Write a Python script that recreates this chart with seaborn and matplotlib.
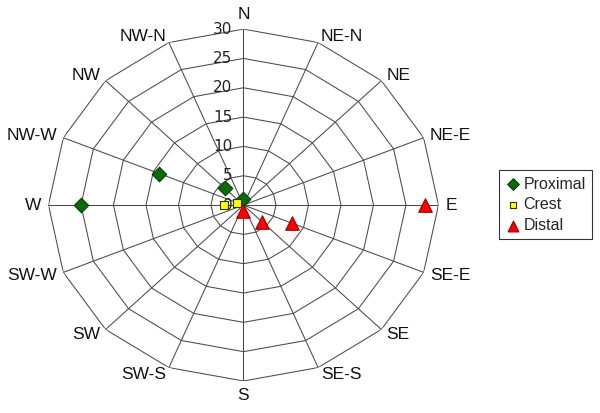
import numpy as np
import pandas as pd
import seaborn as sns
import matplotlib.pyplot as plt

# directions, clockwise from north
directions = ["N", "NE-N", "NE", "NE-E", "E", "SE-E", "SE", "SE-S",
              "S", "SW-S", "SW", "SW-W", "W", "NW-W", "NW", "NW-N"]
# values (NaN = no marker)
proximal = [1, np.nan, np.nan, np.nan, np.nan, np.nan, np.nan, np.nan,
            np.nan, np.nan, np.nan, np.nan, 25, 14, 4, np.nan]
crest = [np.nan, np.nan, np.nan, np.nan, np.nan, np.nan, np.nan, np.nan,
         np.nan, np.nan, np.nan, np.nan, 3, 1, np.nan, np.nan]
distal = [np.nan, np.nan, np.nan, np.nan, 28, 8, 4, np.nan,
          1, np.nan, np.nan, np.nan, np.nan, np.nan, np.nan, np.nan]
r_ticks = [0, 5, 10, 15, 20, 25, 30]

angles = np.deg2rad(np.arange(len(directions)) * 360 / len(directions))

rows = []
for name, vals in [("Proximal", proximal), ("Crest", crest), ("Distal", distal)]:
    for a, v in zip(angles, vals):
        if not np.isnan(v):
            rows.append({"theta": a, "value": v, "series": name})
df = pd.DataFrame(rows)

sns.set_theme(style="white")
plt.rcParams['font.family'] = ['Liberation Sans', 'DejaVu Sans']

fig = plt.figure(figsize=(6, 4.13), dpi=100)
ax = fig.add_axes([0.0808, 0.0775, 0.65, 0.852], projection='polar')
ax.set_aspect('auto')
ax.set_theta_zero_location('N')
ax.set_theta_direction(-1)
ax.set_ylim(0, 30)
ax.grid(False)
ax.spines['polar'].set_visible(False)
ax.set_xticks([])
ax.set_yticks([])

# polygon grid + spokes
closed = np.append(angles, angles[0])
for r in r_ticks[1:]:
    ax.plot(closed, [r] * len(closed), color='#4a4a4a', lw=0.75, zorder=1)
for a in angles:
    ax.plot([a, a], [0, 30], color='#4a4a4a', lw=0.75, zorder=1)

# radial tick labels left of the N spoke
for r in r_ticks:
    ax.annotate(str(r), xy=(0, r), xytext=(-8, 0), textcoords='offset points',
                ha='right', va='center', fontsize=11, color='#222222',
                family='DejaVu Sans', zorder=2)

# direction labels
for a, lab in zip(angles, directions):
    s, c = np.sin(a), np.cos(a)
    ha = 'center' if abs(s) < 0.01 else ('left' if s > 0 else 'right')
    if c > 0.99:
        va = 'bottom'
    elif c < -0.99:
        va = 'top'
    else:
        va = 'center'
    ax.annotate(lab, xy=(a, 30), xytext=(5 * s, 5 * c), textcoords='offset points',
                ha=ha, va=va, fontsize=12.5, color='#111111')

palette = {"Proximal": "#0b6b0b", "Crest": "#ffff00", "Distal": "#ff0000"}
markers = {"Proximal": "D", "Crest": "s", "Distal": "^"}
sizes = {"Proximal": 55, "Crest": 35, "Distal": 95}
edges = {"Proximal": "#063d06", "Crest": "#333300", "Distal": "#990000"}

for name in ["Proximal", "Crest", "Distal"]:
    sub = df[df["series"] == name]
    sns.scatterplot(data=sub, x="theta", y="value", ax=ax, color=palette[name],
                    marker=markers[name], s=sizes[name], edgecolor=edges[name],
                    linewidth=0.8, label=name, zorder=3, clip_on=False)

ax.set_xlabel("")
ax.set_ylabel("")
leg = ax.legend(loc='upper left', bbox_to_anchor=(0.831, 0.588),
                bbox_transform=fig.transFigure, frameon=True, fancybox=False,
                fontsize=11.5, handletextpad=0.15, borderpad=0.4,
                labelspacing=0.35, handlelength=1.0, borderaxespad=0,
                markerscale=0.8)
leg.get_frame().set_edgecolor('#000000')
leg.get_frame().set_linewidth(0.8)

fig.savefig("out.png", dpi=100)
